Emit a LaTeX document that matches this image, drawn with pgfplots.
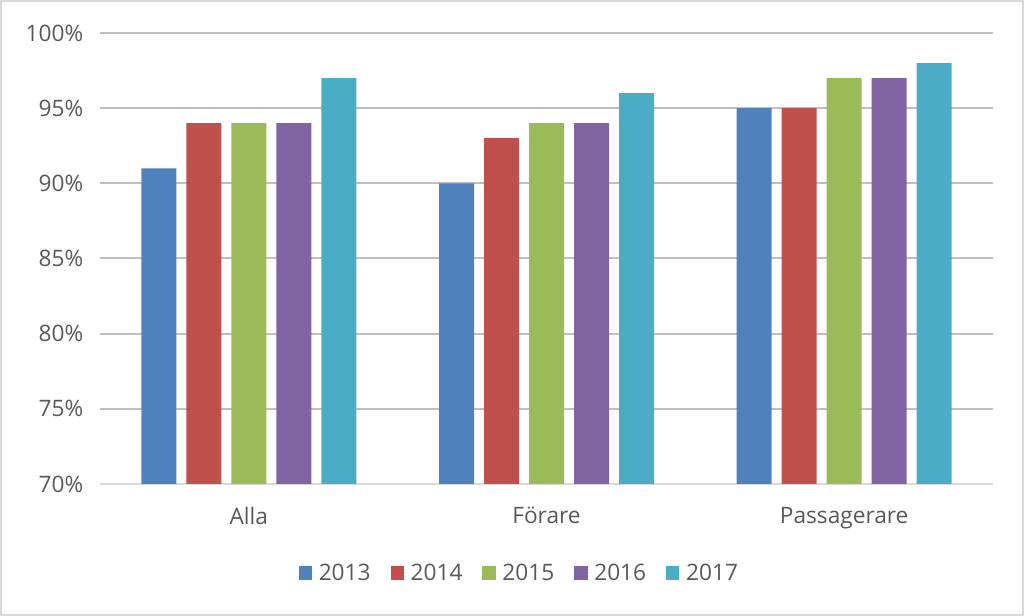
\documentclass[border=0pt]{standalone}
\usepackage{pgfplots}
\pgfplotsset{compat=1.18}
\usepackage{fontspec}
\setmainfont{Open Sans}
\definecolor{c1}{HTML}{4F81BD}
\definecolor{c2}{HTML}{C0504D}
\definecolor{c3}{HTML}{9BBB59}
\definecolor{c4}{HTML}{8064A2}
\definecolor{c5}{HTML}{4BACC6}
\definecolor{txt}{HTML}{595959}
\definecolor{grid}{HTML}{D9D9D9}
\begin{document}
\begin{tikzpicture}
\begin{axis}[
  at={(75pt,99pt)}, anchor=south west,
  scale only axis, width=669.75pt, height=338.25pt,
  ymin=70, ymax=100, ytick={70,75,...,100},
  xmin=-0.5, xmax=2.5, xtick={0,1,2},
  xticklabels={Alla,Förare,Passagerare},
  ybar=7.5pt, bar width=26.25pt,
  axis line style={draw=none},
  ymajorgrids=true, xmajorgrids=false, grid style={grid, line width=1.5pt},
  major tick length=0pt, tick style={draw=none},
  yticklabel={\pgfmathprintnumber{\tick}\%},
  /pgf/number format/assume math mode=true,
  tick label style={font=\fontsize{17}{20}\selectfont, text=txt},
  yticklabel style={xshift=-9pt},
  xticklabel style={yshift=-14pt},
  legend style={at={(0.47,-0.197)}, anchor=center, draw=none, font=\fontsize{17}{20}\selectfont, text=txt, legend columns=5, /tikz/every even column/.append style={column sep=13pt}},
  legend image code/.code={\fill[#1] (0pt,-5pt) rectangle (10pt,5pt); \path (0pt,0pt) -- (13pt,0pt);},
  every axis plot/.append style={draw=none},
  clip=false,
]
\draw[grid, line width=1.5pt] (axis cs:-0.5,70) -- (axis cs:2.5,70);
\addplot[fill=c1] coordinates {(0,91) (1,90) (2,95)};
\addplot[fill=c2] coordinates {(0,94) (1,93) (2,95)};
\addplot[fill=c3] coordinates {(0,94) (1,94) (2,97)};
\addplot[fill=c4] coordinates {(0,94) (1,94) (2,97)};
\addplot[fill=c5] coordinates {(0,97) (1,96) (2,98)};
\legend{2013,2014,2015,2016,2017}
\end{axis}
\draw[grid, line width=1.5pt] (0.75pt,0.75pt) rectangle (767.25pt,461.25pt);
\end{tikzpicture}
\end{document}
